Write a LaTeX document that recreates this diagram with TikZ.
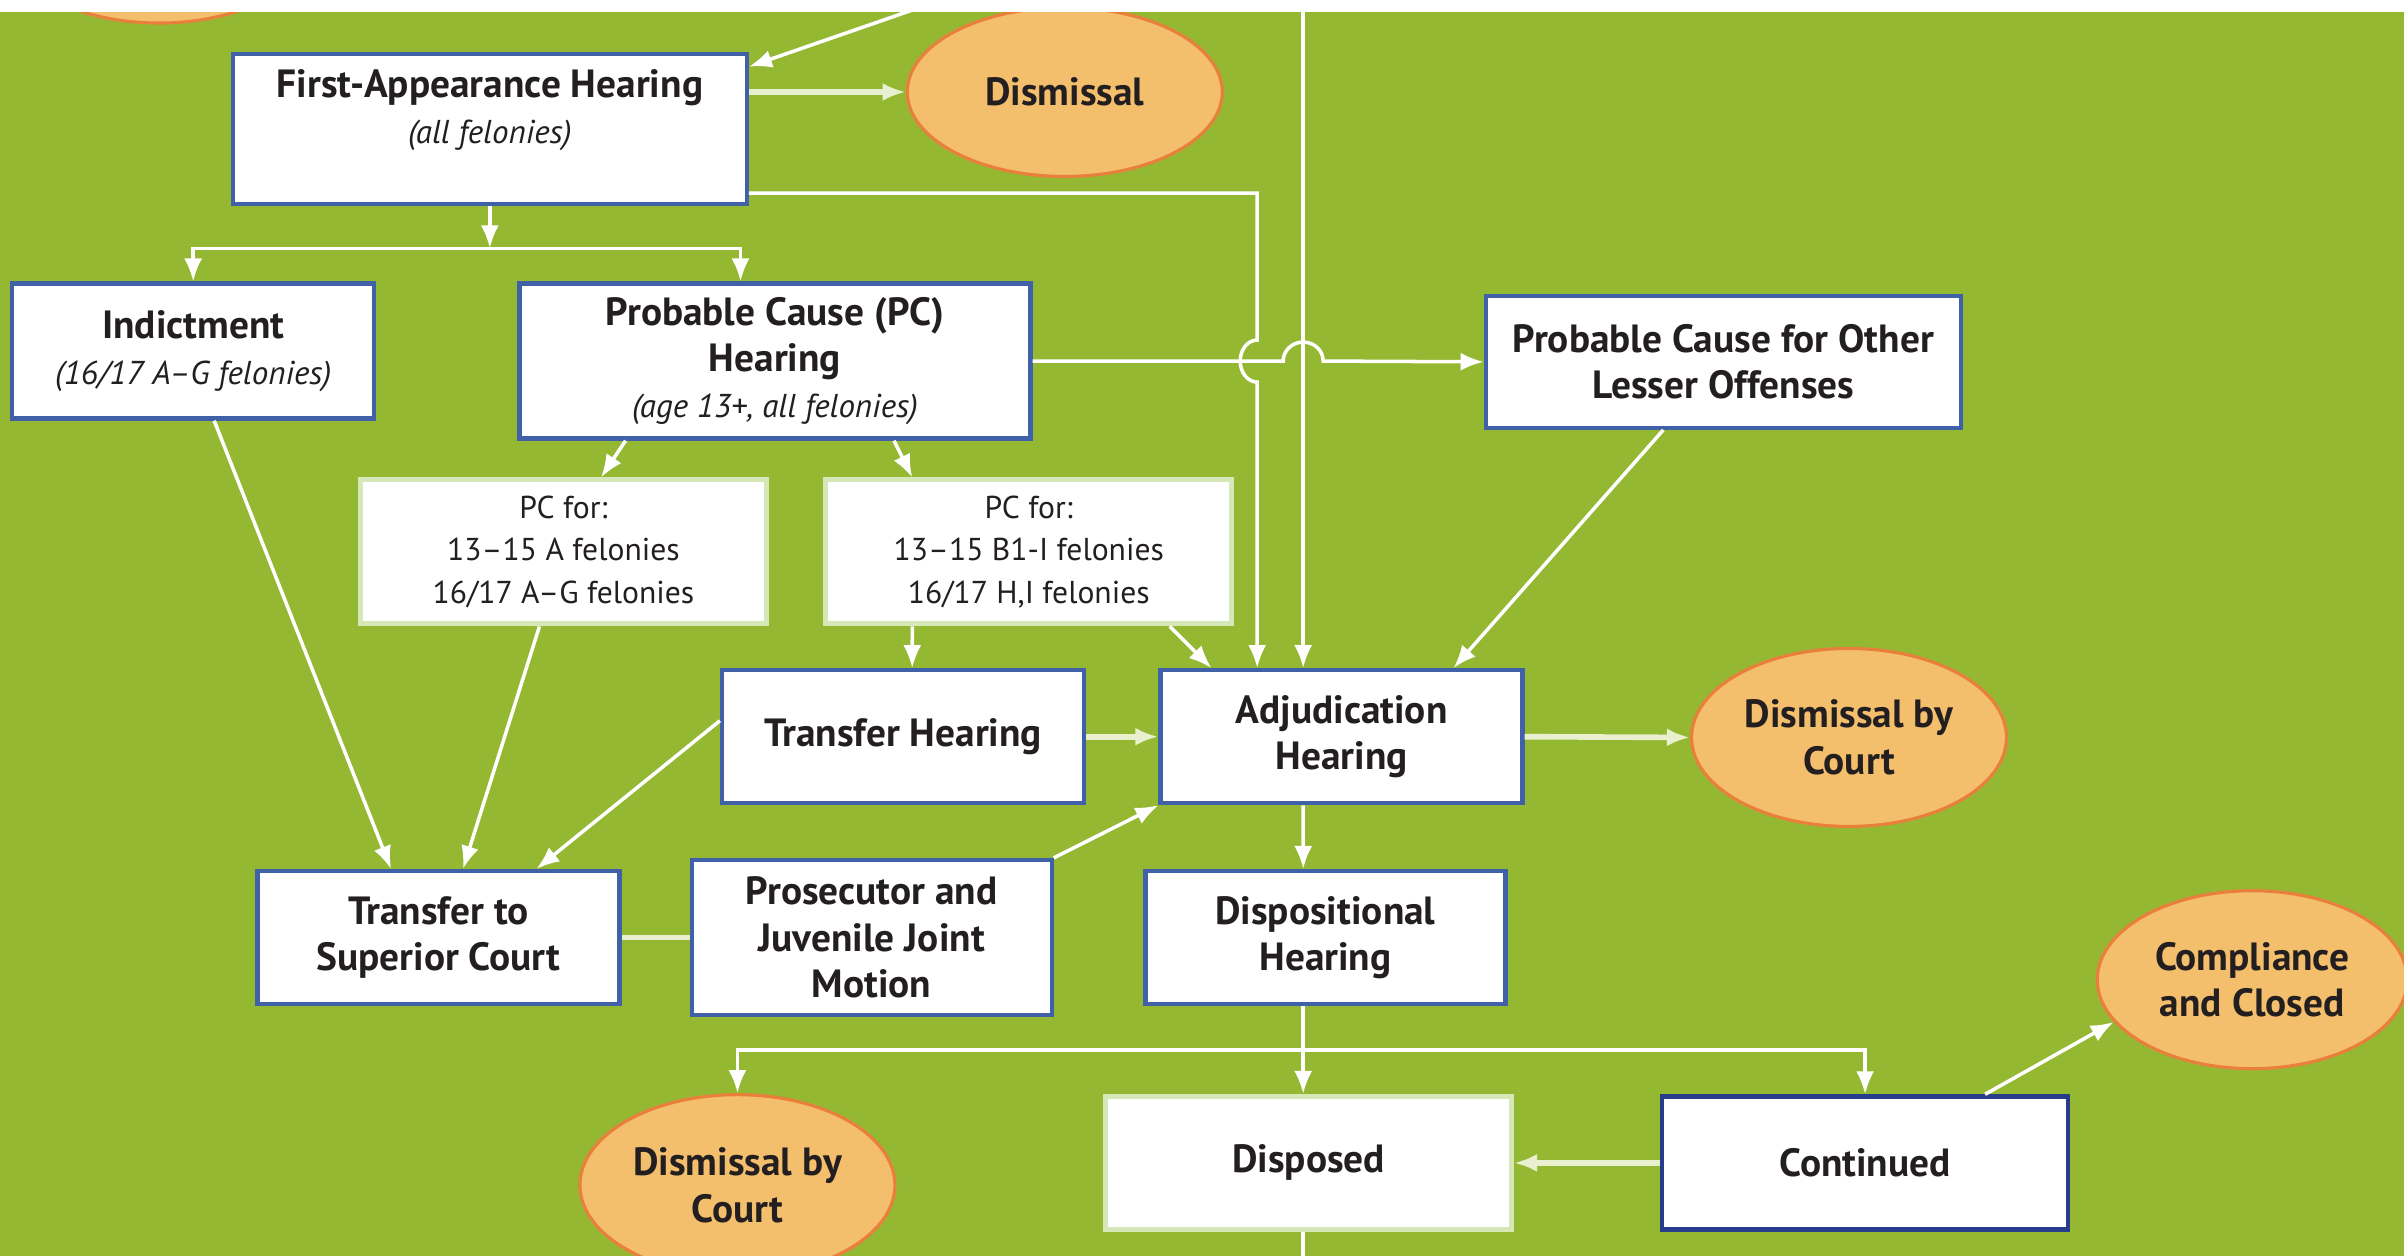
\documentclass[tikz,border=0pt]{standalone}
\usepackage{fontspec}
\setmainfont{PT Sans}
\usetikzlibrary{shapes.geometric,arrows.meta}

\definecolor{fieldgreen}{RGB}{149,184,50}
\definecolor{boxblue}{RGB}{64,96,168}
\definecolor{deepblue}{RGB}{40,60,140}
\definecolor{pcedge}{RGB}{214,232,184}
\definecolor{ovalfill}{RGB}{243,191,108}
\definecolor{ovaledge}{RGB}{232,128,60}
\definecolor{paleline}{RGB}{232,240,208}
\definecolor{inkblack}{RGB}{35,31,32}

\newcommand{\titlesize}{\fontsize{11.2}{13.2}\selectfont}
\newcommand{\notesize}{\fontsize{9}{12}\selectfont}
\newcommand{\remark}{\fontsize{9.4}{13.2}\selectfont\itshape\mdseries}

\tikzset{
  stagebox/.style={draw=boxblue, line width=1.2pt, fill=white, align=center, text=inkblack, font=\titlesize\bfseries, inner sep=1pt},
  pcbox/.style={draw=pcedge, line width=1.4pt, fill=white, align=center, text=inkblack, font=\notesize, inner sep=1pt},
  outcome/.style={ellipse, draw=ovaledge, line width=0.9pt, fill=ovalfill, align=center, text=inkblack, font=\titlesize\bfseries, inner sep=0pt, minimum width=31.5mm, minimum height=17.8mm},
  flow/.style={draw=white, line width=1pt, -{Latex[length=2.3mm,width=1.8mm]}},
  mainflow/.style={flow, draw=paleline, line width=1.6pt},
  tie/.style={draw=paleline, line width=1.6pt}
}

\begin{document}
\begin{tikzpicture}[x=0.15332mm, y=-0.15332mm]
\useasboundingbox (0,0) rectangle (1568,819);
\clip (0,0) rectangle (1568,819);
\fill[fieldgreen] (0,8) rectangle (1568,819);

% first appearance
\node[outcome] (prev) at (103.7,-43) {};
\node[stagebox, minimum width=51.4mm, minimum height=15mm, text depth=4.4mm] (fa) at (319.5,84) {First-Appearance Hearing\\{\remark (all felonies)}};
\node[outcome, minimum height=16.9mm] (dis) at (694.5,60) {Dismissal};

% charging
\node[stagebox, minimum width=36.2mm, minimum height=13.5mm] (ind) at (126,229) {Indictment\\{\remark (16/17 A--G felonies)}};
\node[stagebox, minimum width=51.1mm, minimum height=15.5mm] (pc) at (505.5,235.5) {Probable Cause (PC)\\Hearing\\{\remark (age 13+, all felonies)}};
\node[stagebox, minimum width=47.5mm, minimum height=13.2mm] (pco) at (1124,236) {Probable Cause for Other\\Lesser Offenses};
\node[pcbox, minimum width=40.6mm, minimum height=14.4mm] (pca) at (367.5,360) {PC for:\\13--15 A felonies\\16/17 A--G felonies};
\node[pcbox, minimum width=40.6mm, minimum height=14.4mm] (pcb) at (671,360) {PC for:\\13--15 B1-I felonies\\16/17 H,I felonies};

% hearings
\node[stagebox, minimum width=36.2mm, minimum height=13.3mm] (th) at (589,480.5) {Transfer Hearing};
\node[stagebox, minimum width=36.2mm, minimum height=13.3mm] (adj) at (875,480.5) {Adjudication\\Hearing};
\node[outcome] (dbc) at (1206,481) {Dismissal by\\Court};
\node[stagebox, minimum width=36.2mm, minimum height=13.3mm] (tsc) at (286,611.5) {Transfer to\\Superior Court};
\node[stagebox, minimum width=36mm, minimum height=15.5mm] (pros) at (568.5,611.5) {Prosecutor and\\Juvenile Joint\\Motion};
\node[stagebox, minimum width=36mm, minimum height=13.3mm] (disp) at (864.5,611.5) {Dispositional\\Hearing};

% outcomes
\node[outcome, minimum height=18.1mm] (dbc2) at (481,773) {Dismissal by\\Court};
\node[pcbox, font=\titlesize\bfseries, minimum width=40.6mm, minimum height=13.3mm] (dsd) at (853.5,758.5) {Disposed};
\node[stagebox, draw=deepblue, minimum width=40.6mm, minimum height=13.3mm] (cont) at (1216.5,758.5) {Continued};
\node[outcome, minimum width=31mm] (comp) at (1469,639) {Compliance\\and Closed};

\coordinate (fromtop) at (614,0);
\coordinate (top2) at (850,0);
\coordinate (fork1) at (319.5,162);
\coordinate (bend) at (820,126);
\coordinate (cross1) at (820,235.5);
\coordinate (cross2) at (850,235.5);
\coordinate (fork2) at (850,685);
\coordinate (bottom) at (850,840);

% connectors
\draw[flow] (fromtop) -- ([yshift=-1.5mm]fa.north east);
\draw[mainflow] (fa.east |- dis.west) -- (dis.west);
\draw[flow] (fa.south) -- (fork1);
\draw[flow] (fork1) -| (ind.north);
\draw[flow] (fork1) -| ([xshift=-3.45mm]pc.north);
\draw[flow] ([yshift=-6.44mm]fa.east) -- (bend) -- ([yshift=2.1mm]cross1)
  arc[start angle=90, end angle=270, x radius=1.7mm, y radius=2.1mm] -- (bend |- adj.north);
\draw[flow] (top2) -- (top2 |- adj.north);
\draw[flow] (pc.east) -- ([xshift=-2mm]cross2)
  arc[start angle=180, end angle=0, x radius=2mm, y radius=1.9mm] -- (pco.west);
\draw[flow] ([xshift=-6mm]pco.south) -- ([xshift=11.2mm]adj.north);
\draw[flow] ([xshift=-14.95mm]pc.south) -- ([xshift=3.76mm]pca.north);
\draw[flow] ([xshift=11.9mm]pc.south) -- ([xshift=-11.65mm]pcb.north);
\draw[flow] ([xshift=2.1mm]ind.south) -- ([xshift=-4.75mm]tsc.north);
\draw[flow] ([xshift=-2.4mm]pca.south) -- ([xshift=2.45mm]tsc.north);
\draw[flow] ([yshift=1.6mm]th.west) -- ([xshift=9.8mm]tsc.north);
\draw[flow] ([xshift=-11.65mm]pcb.south) -- ([xshift=0.92mm]th.north);
\draw[flow] ([xshift=14.1mm]pcb.south) -- ([xshift=-13mm]adj.north);
\draw[mainflow] (th.east) -- (adj.west);
\draw[mainflow] (adj.east) -- (dbc.west);
\draw[tie] (tsc.east) -- (pros.west);
\draw[flow] (pros.north east) -- (adj.south west);
\draw[flow] ([xshift=-3.83mm]adj.south) -- ([xshift=-2.22mm]disp.north);
\draw[flow] (disp.south -| fork2) -- (dsd.north -| fork2);
\draw[flow] (fork2) -| (dbc2.north);
\draw[flow] (fork2) -| (cont.north);
\draw[mainflow] (cont.west) -- (dsd.east);
\draw[flow] ([xshift=12mm]cont.north) -- (comp.197);
\draw[flow] (dsd.south -| fork2) -- (bottom);

\fill[white] (0,0) rectangle (1568,8);
\end{tikzpicture}
\end{document}
